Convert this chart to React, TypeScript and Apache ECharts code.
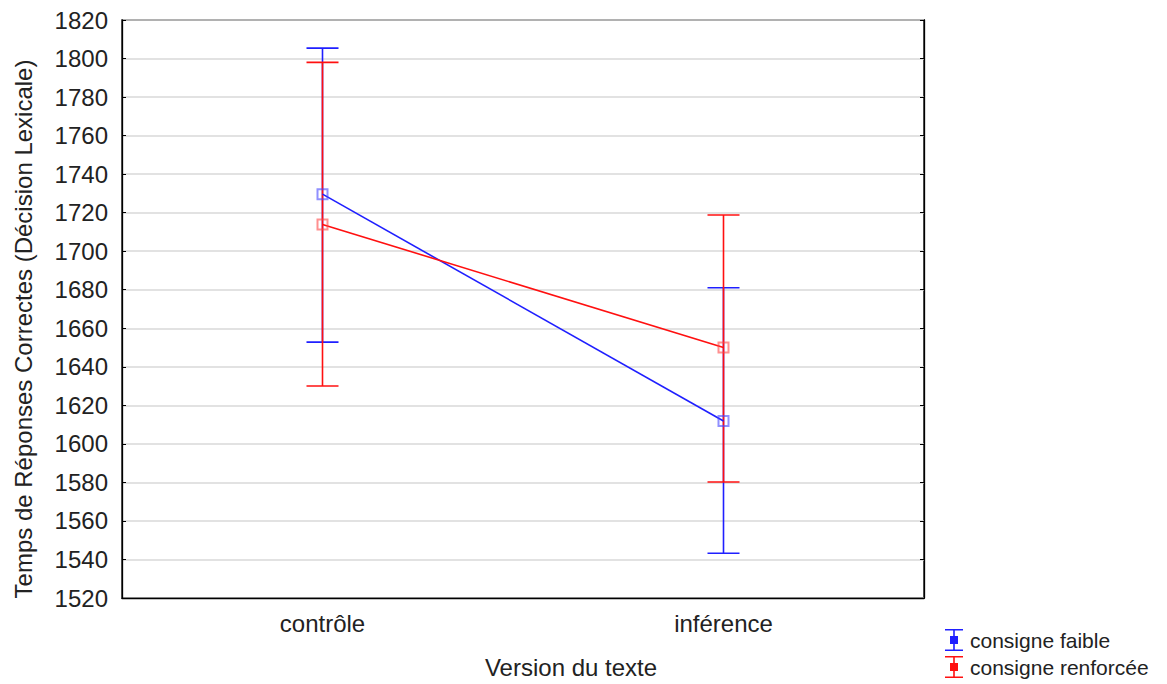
import React, { useEffect, useRef } from "react";
import * as echarts from "echarts";

const categories = ["contrôle", "inférence"];
const seriesNames = ["consigne faible", "consigne renforcée"];
const seriesColors = ["#1f1fff", "#ff1010"];
const markerColors = ["rgba(70,70,255,0.6)", "rgba(255,70,70,0.6)"];
const meanFaible = [1729.6, 1611.9];
const lowFaible = [1652.8, 1543.2];
const highFaible = [1805.4, 1681.0];
const meanRenforcee = [1713.9, 1650.0];
const lowRenforcee = [1630.0, 1580.2];
const highRenforcee = [1798.0, 1718.8];
const yTicks = { min: 1520, max: 1820, interval: 20 };

const legendIcon =
  "path://M0,0H18V1.6H0Z M8.2,0H9.8V22H8.2Z M0,20.4H18V22H0Z M5,7H13V15H5Z";

function errorSeries(name: string, color: string, low: number[], high: number[]) {
  return {
    type: "custom",
    name,
    z: 2,
    data: categories.map((_, i) => [i, low[i], high[i]]),
    itemStyle: { color },
    renderItem: (params: any, api: any) => {
      const x = api.value(0);
      const lo = api.coord([x, api.value(1)]);
      const hi = api.coord([x, api.value(2)]);
      const half = 16;
      const style = { stroke: color, lineWidth: 1.6 };
      return {
        type: "group",
        children: [
          { type: "line", shape: { x1: lo[0], y1: lo[1], x2: hi[0], y2: hi[1] }, style },
          { type: "line", shape: { x1: hi[0] - half, y1: hi[1], x2: hi[0] + half, y2: hi[1] }, style },
          { type: "line", shape: { x1: lo[0] - half, y1: lo[1], x2: lo[0] + half, y2: lo[1] }, style },
        ],
      };
    },
  };
}

function meanSeries(name: string, color: string, marker: string, values: number[]) {
  return {
    type: "line",
    name,
    z: 5,
    data: values,
    symbol: "rect",
    symbolSize: 10,
    lineStyle: { color, width: 1.6 },
    itemStyle: { color: "rgba(255,255,255,0)", borderColor: marker, borderWidth: 2 },
  };
}

export default function App() {
  const ref = useRef<HTMLDivElement>(null);
  useEffect(() => {
    if (!ref.current) return;
    const chart = echarts.init(ref.current, undefined, { renderer: "svg" });
    const font = "Liberation Sans, Arial, sans-serif";
    chart.setOption({
      animation: false,
      backgroundColor: "#ffffff",
      textStyle: { fontFamily: font },
      grid: {
        left: 122,
        right: 243,
        top: 20,
        bottom: 86,
        show: true,
        borderColor: "#000",
        borderWidth: 1.3,
        backgroundColor: "transparent",
      },
      legend: {
        orient: "vertical",
        left: 945,
        top: 629,
        height: 60,
        padding: 0,
        itemWidth: 18,
        itemHeight: 22,
        itemGap: 5,
        textStyle: { fontSize: 21, color: "#222", fontFamily: font, padding: [0, 0, 0, 2] },
        data: seriesNames.map((n, i) => ({ name: n, icon: legendIcon, itemStyle: { color: seriesColors[i] } })),
      },
      xAxis: {
        type: "category",
        data: categories,
        boundaryGap: true,
        name: "Version du texte",
        nameLocation: "middle",
        nameGap: 57,
        nameTextStyle: { fontSize: 24, color: "#222", fontFamily: font, padding: [0, 0, 0, 96] },
        axisLine: { lineStyle: { color: "#000", width: 1.3 } },
        axisTick: { inside: true, length: 5, alignWithLabel: true, lineStyle: { color: "#000" } },
        axisLabel: { fontSize: 24, color: "#222", margin: 13, fontFamily: font },
        splitLine: { show: false },
      },
      yAxis: [
        {
          type: "value",
          min: yTicks.min,
          max: yTicks.max,
          interval: yTicks.interval,
          name: "Temps de Réponses Correctes (Décision Lexicale)",
          nameLocation: "middle",
          nameGap: 87,
          nameTextStyle: { fontSize: 24, color: "#222", fontFamily: font, padding: [0, 40, 0, 0] },
          axisLine: { show: true, lineStyle: { color: "#000", width: 1.3 } },
          axisTick: { show: true, inside: true, length: 4, lineStyle: { color: "#000" } },
          axisLabel: {
            fontSize: 24,
            color: "#222",
            margin: 14,
            fontFamily: font,
            formatter: (v: number) => String(v),
          },
          splitLine: { show: true, lineStyle: { color: "#d8d8d8", width: 1.5 } },
        },
        {
          type: "value",
          position: "right",
          min: yTicks.min,
          max: yTicks.max,
          interval: yTicks.interval,
          axisLine: { show: true, lineStyle: { color: "#000", width: 1.3 } },
          axisTick: { show: true, inside: true, length: 4, lineStyle: { color: "#000" } },
          axisLabel: { show: false },
          splitLine: { show: false },
        },
      ],
      series: [
        errorSeries(seriesNames[0], seriesColors[0], lowFaible, highFaible),
        errorSeries(seriesNames[1], seriesColors[1], lowRenforcee, highRenforcee),
        meanSeries(seriesNames[0], seriesColors[0], markerColors[0], meanFaible),
        meanSeries(seriesNames[1], seriesColors[1], markerColors[1], meanRenforcee),
      ],
    });
    return () => chart.dispose();
  }, []);
  return (
    <div
      ref={ref}
      style={{ position: "fixed", left: 0, top: 0, width: 1167, height: 684 }}
    />
  );
}
